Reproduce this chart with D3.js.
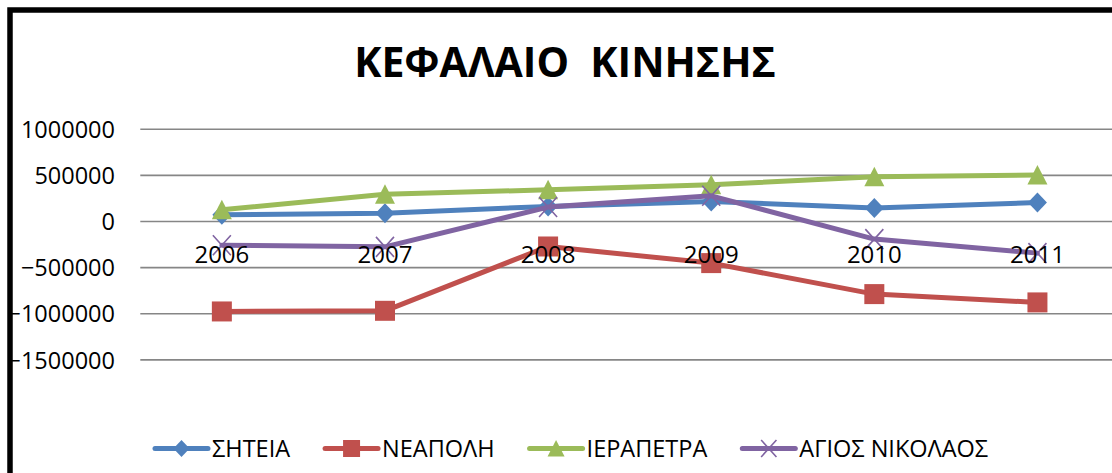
<!DOCTYPE html>
<html>
<head>
<meta charset="utf-8">
<script src="https://cdn.jsdelivr.net/npm/d3@7"></script>
<style>
  html, body { margin: 0; padding: 0; background: #fff; }
  svg { display: block; }
</style>
</head>
<body>
<svg id="chart" width="1112" height="473"></svg>
<script>
// Data: capital movement per municipality, 2006–2011
const years = ["2006", "2007", "2008", "2009", "2010", "2011"];
const seriesNames = ["ΣΗΤΕΙΑ", "ΝΕΑΠΟΛΗ", "ΙΕΡΑΠΕΤΡΑ", "ΑΓΙΟΣ ΝΙΚΟΛΑΟΣ"];
const sitia        = [72000, 90000, 163000, 217000, 145000, 206000];
const neapoli      = [-975000, -968000, -271000, -451000, -787000, -877000];
const ierapetra    = [127000, 296000, 343000, 398000, 485000, 503000];
const agiosNikolaos = [-258000, -275000, 156000, 278000, -191000, -343000];
const yTicks = [1000000, 500000, 0, -500000, -1000000, -1500000];
const titleText = "ΚΕΦΑΛΑΙΟ  ΚΙΝΗΣΗΣ";

const seriesValues = [sitia, neapoli, ierapetra, agiosNikolaos];
const colors = ["#4F81BD", "#C0504D", "#9BBB59", "#8064A2"];
const markerKinds = ["diamond", "square", "triangle", "x"];

const svg = d3.select("#chart");
const font = "'Open Sans', 'Liberation Sans', sans-serif";

// outer chart frame
svg.append("rect")
  .attr("x", 10).attr("y", 10)
  .attr("width", 1130).attr("height", 500)
  .attr("fill", "#fff")
  .attr("stroke", "#000").attr("stroke-width", 5.5);

// title
svg.append("text")
  .attr("x", 565).attr("y", 77)
  .attr("text-anchor", "middle")
  .style("white-space", "pre")
  .attr("font-family", font)
  .attr("font-weight", "bold")
  .attr("font-size", 41)
  .attr("fill", "#000")
  .text(titleText);

// scales
const x = d3.scaleBand().domain(years).range([140.3, 1119]);
const y = d3.scaleLinear().domain([-1500000, 1000000]).range([359.9, 129.2]);

// horizontal gridlines
svg.append("g")
  .selectAll("line")
  .data(yTicks)
  .join("line")
  .attr("x1", x.range()[0]).attr("x2", x.range()[1])
  .attr("y1", d => y(d)).attr("y2", d => y(d))
  .attr("stroke", "#868686").attr("stroke-width", 1.6);

// value axis labels
const yAxis = d3.axisLeft(y).tickValues(yTicks).tickSize(0).tickPadding(0)
  .tickFormat(d3.format("d"));
const yg = svg.append("g").attr("transform", "translate(115,0)").call(yAxis);
yg.select(".domain").remove();
yg.selectAll("text")
  .attr("font-family", font).attr("font-size", 23.5).attr("fill", "#000")
  .attr("dy", "0.35em");

// marker shapes
function markerPath(kind, s) {
  const p = d3.path();
  if (kind === "diamond") {
    p.moveTo(0, -s); p.lineTo(s * 0.95, 0); p.lineTo(0, s); p.lineTo(-s * 0.95, 0); p.closePath();
  } else if (kind === "square") {
    p.rect(-s, -s, 2 * s, 2 * s);
  } else if (kind === "triangle") {
    p.moveTo(0, -s); p.lineTo(s, s * 0.95); p.lineTo(-s, s * 0.95); p.closePath();
  } else {
    p.moveTo(-s * 0.9, -s); p.lineTo(s * 0.9, s);
    p.moveTo(s * 0.9, -s); p.lineTo(-s * 0.9, s);
  }
  return p.toString();
}
function drawMarker(g, kind, color, s) {
  const m = g.append("path").attr("d", markerPath(kind, s));
  if (kind === "x") m.attr("fill", "none").attr("stroke", color).attr("stroke-width", 1.6);
  else m.attr("fill", color).attr("stroke", "none");
}

// series lines and markers
const line = d3.line()
  .x((d, i) => x(years[i]) + x.bandwidth() / 2)
  .y(d => y(d));

const plot = svg.append("g");
seriesValues.forEach((vals, si) => {
  const g = plot.append("g");
  g.append("path")
    .attr("d", line(vals))
    .attr("fill", "none")
    .attr("stroke", colors[si])
    .attr("stroke-width", 5)
    .attr("stroke-linejoin", "round")
    .attr("stroke-linecap", "round");
  vals.forEach((v, i) => {
    const mg = g.append("g")
      .attr("transform", `translate(${x(years[i]) + x.bandwidth() / 2},${y(v)})`);
    drawMarker(mg, markerKinds[si], colors[si], 10);
  });
});

// category axis labels, sitting just under the zero line
const xAxis = d3.axisBottom(x).tickSize(0).tickPadding(0);
const xg = svg.append("g").attr("transform", `translate(0,${y(0)})`).call(xAxis);
xg.select(".domain").remove();
xg.selectAll("text")
  .attr("font-family", font).attr("font-size", 24).attr("fill", "#000")
  .attr("dy", null).attr("y", 42);

// legend
const legend = svg.append("g");
let lx = 155;
const ly = 448.5;
seriesNames.forEach((name, si) => {
  const g = legend.append("g");
  g.append("line")
    .attr("x1", lx).attr("x2", lx + 53)
    .attr("y1", ly).attr("y2", ly)
    .attr("stroke", colors[si]).attr("stroke-width", 5)
    .attr("stroke-linecap", "round");
  const mg = g.append("g").attr("transform", `translate(${lx + 26.5},${ly})`);
  drawMarker(mg, markerKinds[si], colors[si], 8.5);
  const t = g.append("text")
    .attr("x", lx + 57).attr("y", ly + 8)
    .attr("font-family", font).attr("font-size", 23.5).attr("fill", "#000")
    .text(name);
  lx = lx + 57 + t.node().getComputedTextLength() + 35;
});
</script>
</body>
</html>
